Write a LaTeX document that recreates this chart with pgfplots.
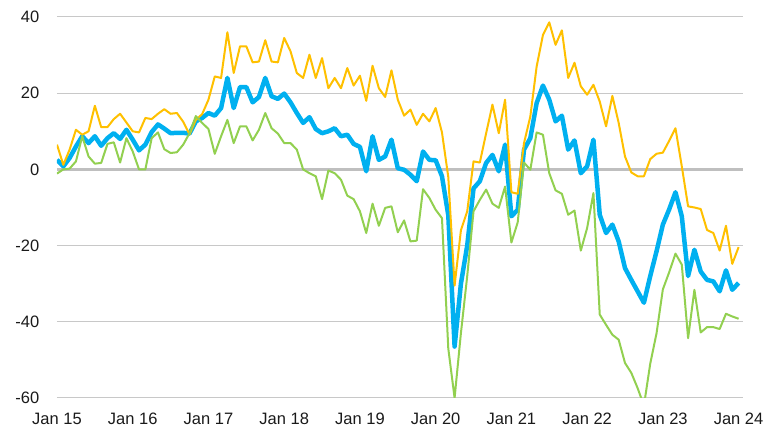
\documentclass[border=0pt]{standalone}
\usepackage{fontspec}
\setmainfont{Liberation Sans}
\usepackage{pgfplots}
\usepackage{pgfplotstable}
\pgfplotsset{compat=1.18}
\definecolor{cblue}{HTML}{00B0F0}
\definecolor{corange}{HTML}{FFC000}
\definecolor{cgreen}{HTML}{92D050}
\definecolor{gridgray}{HTML}{C8C8C8}
\definecolor{zerogray}{HTML}{BFBFBF}
\definecolor{labelcol}{HTML}{1A1A1A}
\pgfplotstableread{
m blue orange green
0 2.5 6.5 -1.1
1 0.8 1.2 0
2 3 5.2 0.2
3 6 10.4 2.1
4 8.7 9.1 8.7
5 6.9 10 3.4
6 8.7 16.7 1.5
7 6.2 11.1 1.7
8 8.2 11.1 6.7
9 9.5 13.2 7.1
10 8 14.6 1.8
11 10.4 12.3 8.2
12 7.8 10 4.7
13 5 9.7 0
14 6.5 13.5 0
15 9.8 13.2 8.2
16 11.8 14.6 9.7
17 10.7 15.8 5.3
18 9.5 14.6 4.3
19 9.6 14.8 4.5
20 9.6 12.5 6.5
21 9.4 9.2 9.5
22 12.6 13 14
23 13.5 14.5 12.2
24 14.8 18.3 10.6
25 14.1 24.4 4.1
26 16.1 24 8.7
27 24 36 13
28 16.1 25.3 6.9
29 21.6 32.3 11.3
30 21.6 32.3 11.3
31 17.6 28.1 7.6
32 19 28.3 10.4
33 24 33.9 14.8
34 19.2 28.3 10.8
35 18.5 28.1 9.4
36 19.9 34.5 6.9
37 17.6 31 6.9
38 14.8 25.3 5.2
39 12.2 24 0
40 13.7 30.1 -1
41 10.6 24 -1.8
42 9.5 29.2 -7.8
43 10 21.3 -0.3
44 10.8 24 -1
45 8.7 21.3 -2.7
46 9.1 26.6 -6.9
47 6.7 22 -7.8
48 5.9 24.6 -11
49 -0.5 18 -16.7
50 8.7 27.2 -9
51 2.5 21.3 -14.8
52 3.4 19 -10.1
53 7.8 26 -9.7
54 0.3 18.3 -16.5
55 -0.1 14.1 -13.4
56 -1.4 15.7 -18.9
57 -3.1 11.7 -18.7
58 4.7 14.6 -5.2
59 2.5 12.6 -7.5
60 2.4 16.1 -10.6
61 -1.8 9.7 -12.8
62 -12 -2 -47
63 -46.5 -30.5 -60
64 -30 -16 -43
65 -20 -11 -28
66 -5 2.1 -11
67 -3.1 1.8 -8
68 1.7 9.5 -5.3
69 3.8 17 -9
70 -0.5 9.5 -10.1
71 6.5 18.3 -4.5
72 -12.3 -6 -19.2
73 -10.6 -6.4 -13.9
74 5.2 6.9 1.8
75 8.2 13.9 -0.1
76 17.4 27 9.7
77 22 35.3 9.1
78 18.3 38.6 -1
79 12.6 32.7 -5.5
80 14.1 36.5 -6.4
81 5.2 24 -11.9
82 7.6 28 -10.8
83 -1 21.8 -21.3
84 0.8 19.6 -15.4
85 7.8 22.2 -6.2
86 -11.9 17.8 -38.1
87 -16.7 11.3 -40.8
88 -14.5 19.3 -43.4
89 -18.9 12.2 -44.7
90 -25.9 3.4 -50.8
91 -29 -0.8 -53.4
92 -32 -1.8 -57.4
93 -35 -1.8 -62
94 -28 2.7 -51
95 -21.5 4.1 -43
96 -14.5 4.4 -31.5
97 -10.5 7.5 -27
98 -6 10.8 -22.1
99 -12.3 0.8 -25
100 -28 -9.7 -44.3
101 -21.1 -10 -31.6
102 -26.8 -10.4 -42.8
103 -29 -15.9 -41.4
104 -29.4 -16.7 -41.4
105 -32 -21.3 -41.9
106 -26.5 -14.8 -37.9
107 -31.6 -24.8 -38.6
108 -29.8 -20.4 -39.2
}\datatable
\begin{document}
\begin{tikzpicture}
\begin{axis}[
  name=ax, at={(0,0)}, anchor=south west,
  scale only axis, width=686pt, height=381pt,
  xmin=0, xmax=108.7, ymin=-60, ymax=40,
  axis line style={draw=none},
  major tick length=0pt,
  xtick={0,12,...,108},
  xticklabels={Jan 15,Jan 16,Jan 17,Jan 18,Jan 19,Jan 20,Jan 21,Jan 22,Jan 23,Jan 24},
  ytick={-60,-40,-20,20,40},
  yticklabels={{-60},{-40},{-20},{20},{40}},
  extra y ticks={0}, extra y tick labels={0},
  extra y tick style={grid style={draw=zerogray, line width=3.2pt}},
  ymajorgrids,
  grid style={draw=gridgray, line width=1pt},
  tick label style={font=\fontsize{16.5}{18}\selectfont, text=labelcol},
  yticklabel style={anchor=east, inner sep=0pt, xshift=-17.5pt},
  xticklabel style={anchor=north, inner sep=0pt, yshift=-15pt},
]
\addplot[cblue, line width=4.5pt, line join=round] table[x=m, y=blue] {\datatable};
\addplot[corange, line width=2pt, line join=round] table[x=m, y=orange] {\datatable};
\addplot[cgreen, line width=2pt, line join=round] table[x=m, y=green] {\datatable};
\end{axis}
\pgfresetboundingbox
\useasboundingbox ([shift={(-57pt,-31pt)}]ax.south west) rectangle ([shift={(27pt,17pt)}]ax.north east);
\end{tikzpicture}
\end{document}
